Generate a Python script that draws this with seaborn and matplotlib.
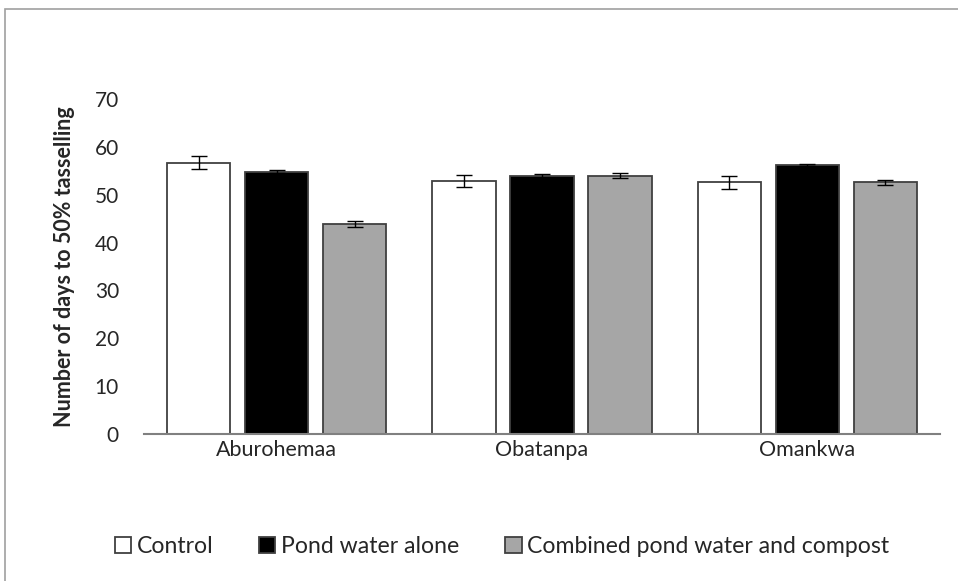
import matplotlib
matplotlib.use("Agg")
import matplotlib.pyplot as plt
import seaborn as sns
import pandas as pd
from matplotlib.patches import Rectangle

# Varieties and treatments
varieties = ["Aburohemaa", "Obatanpa", "Omankwa"]
treatments = ["Control", "Pond water alone", "Combined pond water and compost"]

# Mean days to 50% tasselling per treatment (one value per variety)
control_days = [56.7, 52.9, 52.6]
pond_days = [54.8, 53.9, 56.2]
combined_days = [43.9, 54.0, 52.6]

# Standard errors
control_se = [1.3, 1.3, 1.35]
pond_se = [0.3, 0.4, 0.25]
combined_se = [0.55, 0.5, 0.5]

colors = ["#FFFFFF", "#000000", "#A6A6A6"]

rows = []
for t, vals, errs in zip(treatments,
                         [control_days, pond_days, combined_days],
                         [control_se, pond_se, combined_se]):
    for v, val, err in zip(varieties, vals, errs):
        rows.append({"Variety": v, "Treatment": t, "Days": val, "SE": err})
df = pd.DataFrame(rows)

sns.set_style("white")
plt.rcParams["font.family"] = ["Lato", "DejaVu Sans"]

fig = plt.figure(figsize=(9.58, 5.81), dpi=100)
ax = fig.add_axes([0.1503, 0.253, 0.8309, 0.5766])

sns.barplot(data=df, x="Variety", y="Days", hue="Treatment",
            order=varieties, hue_order=treatments, palette=colors,
            errorbar=None, width=0.882, gap=0.19,
            edgecolor="#404040", linewidth=1.3, ax=ax)

# Error bars at each bar's centre
for container, t in zip(ax.containers, treatments):
    sub = df[df["Treatment"] == t].set_index("Variety").loc[varieties]
    xs = [p.get_x() + p.get_width() / 2 for p in container.patches]
    ax.errorbar(xs, sub["Days"].values, yerr=sub["SE"].values,
                fmt="none", ecolor="black", elinewidth=1.0,
                capsize=6, capthick=1.0, zorder=5)

ax.set_ylim(0, 70)
ax.set_yticks(range(0, 71, 10))
ax.set_xlim(-0.5, 2.5)
ax.tick_params(axis="y", labelsize=15, length=0, pad=18)
ax.tick_params(axis="x", labelsize=15.5, length=0, pad=4)
ax.set_xlabel("")
ax.set_ylabel("Number of days to 50% tasselling", fontsize=15.5,
              fontweight="bold", labelpad=14)

for s in ["top", "right", "left"]:
    ax.spines[s].set_visible(False)
ax.spines["bottom"].set_color("#808080")
ax.spines["bottom"].set_linewidth(1.5)

handles, labels = ax.get_legend_handles_labels()
ax.get_legend().remove()
fig.legend(handles, labels, loc="center", bbox_to_anchor=(0.524, 0.06),
           ncol=3, frameon=False, fontsize=16.6, handlelength=0.7,
           handleheight=0.7, handletextpad=0.25, columnspacing=2.0)

# Chart-area border
fig.patches.append(Rectangle((5 / 958, -0.05), 1.2, 1.05 - 9 / 581,
                             transform=fig.transFigure, fill=False,
                             edgecolor="#A0A0A0", linewidth=1.2))

fig.savefig("out.png", dpi=100)
